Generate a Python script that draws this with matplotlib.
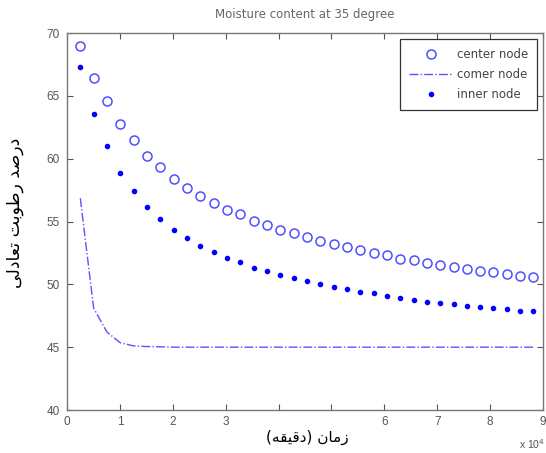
import matplotlib
matplotlib.use('Agg')
import matplotlib.pyplot as plt
from matplotlib.patches import Rectangle

# time in minutes (one sample every 42 hours)
minutes = [2520, 5040, 7560, 10080, 12600, 15120, 17640, 20160, 22680, 25200,
           27720, 30240, 32760, 35280, 37800, 40320, 42840, 45360, 47880, 50400,
           52920, 55440, 57960, 60480, 63000, 65520, 68040, 70560, 73080, 75600,
           78120, 80640, 83160, 85680, 88200]

center_node = [69.0, 66.45, 64.6, 62.75, 61.45, 60.25, 59.35, 58.4, 57.7, 57.0,
               56.5, 55.95, 55.6, 55.05, 54.7, 54.35, 54.1, 53.75, 53.45, 53.2,
               52.95, 52.75, 52.5, 52.3, 52.05, 51.9, 51.7, 51.55, 51.4, 51.25,
               51.1, 51.0, 50.85, 50.7, 50.6]

corner_node = [56.85, 48.1, 46.2, 45.35, 45.1, 45.05, 45.03, 45.0, 45.0, 45.0,
               45.0, 45.0, 45.0, 45.0, 45.0, 45.0, 45.0, 45.0, 45.0, 45.0,
               45.0, 45.0, 45.0, 45.0, 45.0, 45.0, 45.0, 45.0, 45.0, 45.0,
               45.0, 45.0, 45.0, 45.0, 45.0]

inner_node = [67.3, 63.55, 61.0, 58.85, 57.45, 56.15, 55.2, 54.3, 53.65, 53.05,
              52.6, 52.1, 51.75, 51.3, 51.05, 50.75, 50.5, 50.25, 50.05, 49.8,
              49.65, 49.4, 49.3, 49.1, 48.95, 48.75, 48.6, 48.5, 48.4, 48.3,
              48.2, 48.1, 48.05, 47.9, 47.85]

x_ticks = [0, 10000, 20000, 30000, 40000, 50000, 60000, 70000, 80000, 90000]
x_ticklabels = ['0', '1', '2', '3', '4', '5', '6', '7', '8', '9']
y_ticks = [40, 45, 50, 55, 60, 65, 70]

# Persian labels written in shaped presentation forms, visual order
x_label = '(\uFEEA\uFED8\uFEF4\uFED7\uFEA9) \uFEE5\uFE8E\uFEE3\uFEAF'
y_label = ('\uFEF0\uFEDF\uFEA9\uFE8E\uFECC\uFE97 '
           '\uFE96\uFE91\uFEEE\uFEC3\uFEAD '
           '\uFEAA\uFEBB\uFEAD\uFEA9')

grey = '#555555'
plt.rcParams['font.family'] = ['Liberation Sans', 'DejaVu Sans']

fig = plt.figure(figsize=(5.46, 4.53), dpi=100)
ax = fig.add_axes([0.1227, 0.0949, 0.8718, 0.8322])

ax.plot(minutes, center_node, 'o', mfc='none', mec='#4f4fff', mew=1.1,
        ms=6.5, label='center node')
ax.plot(minutes, corner_node, '-.', color='#5555ff', lw=1.0,
        label='comer node')
ax.plot(minutes, inner_node, '.', color='#0000ff', ms=6,
        label='inner node')

ax.set_xlim(0, 90000)
ax.set_ylim(40, 70)
ax.set_xticks(x_ticks)
ax.set_xticklabels(x_ticklabels)
ax.set_yticks(y_ticks)

ax.tick_params(direction='in', length=4, width=0.8, colors=grey,
               labelsize=8.5, top=True, right=True)
ax.tick_params(axis='x', pad=4)
ax.tick_params(axis='y', pad=5)
for s in ax.spines.values():
    s.set_color('#777777')
    s.set_linewidth(1.0)

ax.set_title('Moisture content at 35 degree', family=['DejaVu Sans'],
             fontsize=8.5, color='#666666', pad=11)

leg = ax.legend(loc='upper right', prop={'family': 'DejaVu Sans', 'size': 8.5},
                fancybox=False, framealpha=1, edgecolor='#333333',
                borderpad=0.75, handlelength=3.8, handletextpad=0.3,
                labelspacing=0.6, borderaxespad=0.5)
leg.get_frame().set_linewidth(0.9)
for t in leg.get_texts():
    t.set_color('#444444')

# white patch under the x label hides the middle tick labels
fig.add_artist(Rectangle((252 / 546, 1 - 452 / 453), 115 / 546, 39 / 453,
                         transform=fig.transFigure, facecolor='white',
                         edgecolor='none', zorder=4))
fig.text(307 / 546, 1 - 437 / 453, x_label, family=['DejaVu Sans'],
         fontsize=11, ha='center', va='center', zorder=5)
fig.text(15 / 546, 1 - 213 / 453, y_label, family=['DejaVu Sans'],
         fontsize=12.5, rotation=90, ha='center', va='center')
fig.text(532 / 546, 1 - 444 / 453, r'x 10$^4$', fontsize=7.5, color=grey,
         ha='center', va='center')

fig.savefig('out.png', dpi=100)
